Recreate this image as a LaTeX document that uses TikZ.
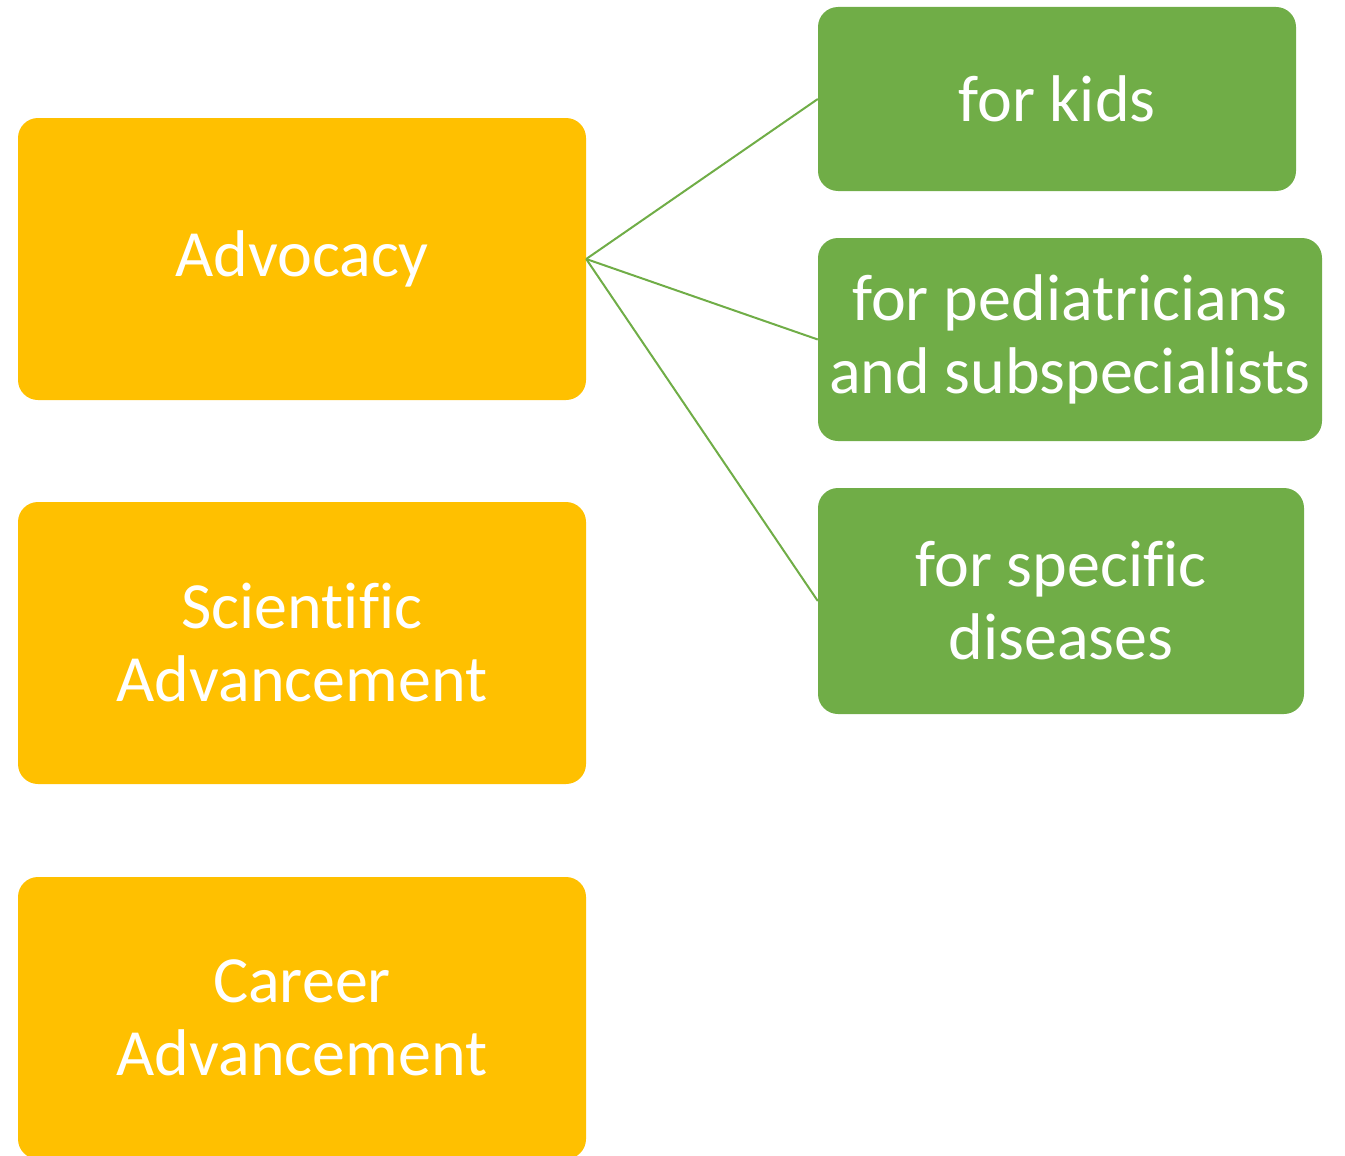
\documentclass[tikz,border=0pt]{standalone}
\usepackage{fontspec}
\setmainfont{Carlito}[Ligatures=NoCommon]
\definecolor{goldbox}{HTML}{FFC000}
\definecolor{greenbox}{HTML}{70AD47}
\begin{document}
\begin{tikzpicture}[x=1pt,y=-1pt,
  box/.style={rectangle, rounded corners=20pt, inner sep=0pt, align=center, text=white,
    font=\fontsize{66}{73}\selectfont},
  goldnode/.style={box, fill=goldbox, minimum width=568pt, minimum height=282pt},
  greennode/.style={box, fill=greenbox},
  link/.style={draw=greenbox, line width=2pt}]
\useasboundingbox (0,0) rectangle (1345,1156);
\clip (0,0) rectangle (1345,1156);
\node[goldnode] (adv) at (302,259) {Advocacy};
\node[goldnode] (sci) at (302,643) {Scientific\\Advancement};
\node[goldnode] (car) at (302,1018) {Career\\Advancement};
\node[greennode, minimum width=478pt, minimum height=184pt] (kids) at (1057,99) {for kids};
\node[greennode, minimum width=504pt, minimum height=203pt] (ped) at (1070,339.5) {for pediatricians\\and subspecialists};
\node[greennode, minimum width=486pt, minimum height=226pt] (spec) at (1061,601) {for specific\\diseases};
\draw[link] (adv.east) -- (kids.west);
\draw[link] (adv.east) -- (ped.west);
\draw[link] (adv.east) -- (spec.west);
\end{tikzpicture}
\end{document}
